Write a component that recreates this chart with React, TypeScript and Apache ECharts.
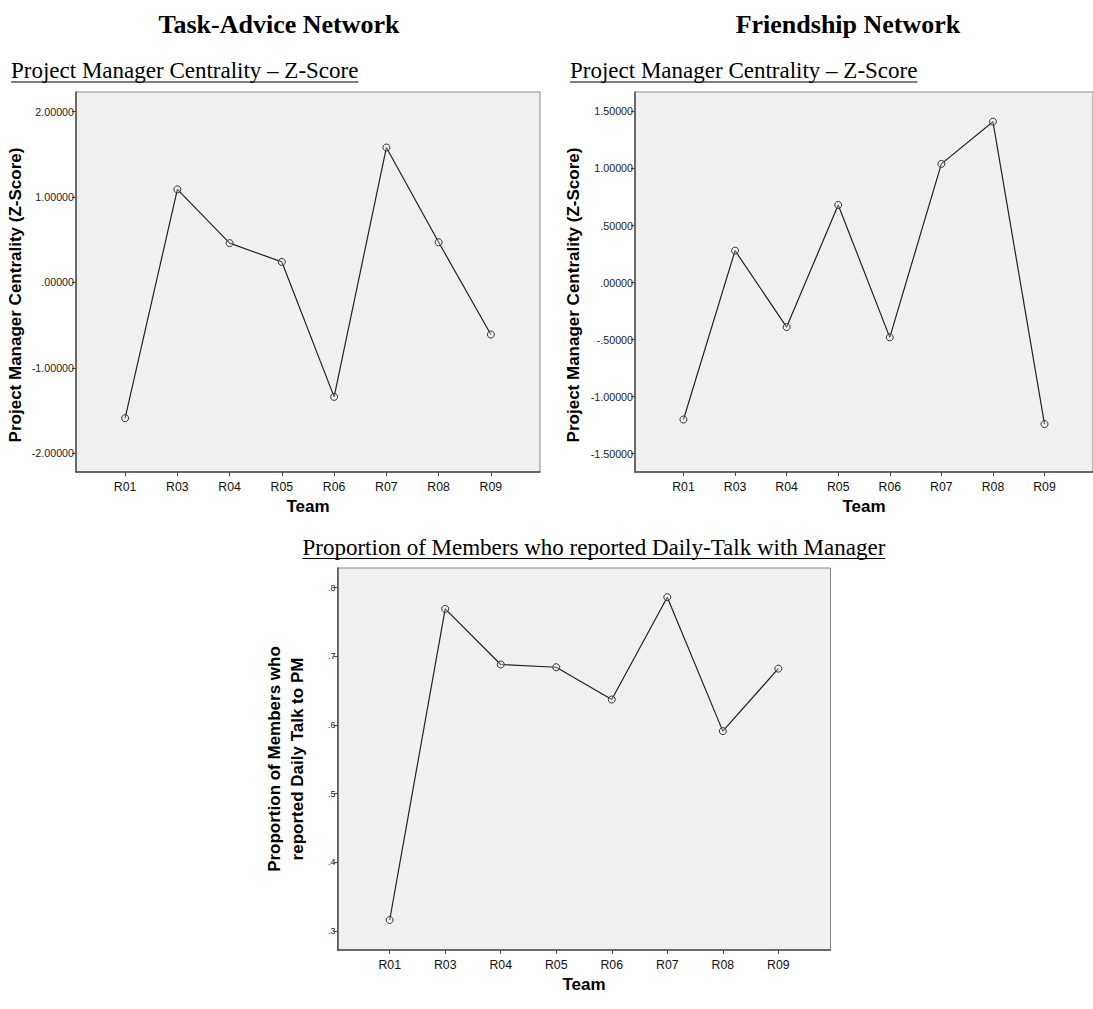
import React, { useEffect, useRef } from "react";
import * as echarts from "echarts";

// ---- data ----
const teams = ["R01", "R03", "R04", "R05", "R06", "R07", "R08", "R09"];
const taskAdvice = [-1.59, 1.09, 0.46, 0.24, -1.34, 1.58, 0.47, -0.61];
const friendship = [-1.2, 0.28, -0.39, 0.68, -0.48, 1.04, 1.41, -1.24];
const dailyTalk = [0.316, 0.769, 0.688, 0.684, 0.637, 0.786, 0.591, 0.682];

const taskTicks = [-2, -1, 0, 1, 2];
const friendTicks = [-1.5, -1, -0.5, 0, 0.5, 1, 1.5];
const talkTicks = [0.3, 0.4, 0.5, 0.6, 0.7, 0.8];
const teamTicks = teams.map((_, i) => i);

const headings = ["Task-Advice Network", "Friendship Network"];
const subtitles = [
  "Project Manager Centrality \u2013 Z-Score",
  "Project Manager Centrality \u2013 Z-Score",
  "Proportion of Members who reported Daily-Talk with Manager",
];
const yNames = [
  "Project Manager Centrality (Z-Score)",
  "Project Manager Centrality (Z-Score)",
  "Proportion of Members who\nreported Daily Talk to PM",
];

const SANS = '"Liberation Sans", Arial, sans-serif';
const SERIF = '"Liberation Serif", "Times New Roman", serif';

function spssFmt(v: number, d: number): string {
  const s = Math.abs(v).toFixed(d).replace(/^0\./, ".");
  return (v < 0 ? "-" : "") + s;
}

function measure(text: string, font: string): number {
  const c = document.createElement("canvas").getContext("2d");
  if (!c) return text.length * 10;
  c.font = font;
  return c.measureText(text).width;
}

export default function App() {
  const ref = useRef<HTMLDivElement>(null);

  useEffect(() => {
    if (!ref.current) return;
    const chart = echarts.init(ref.current, undefined, { renderer: "svg" });

    const grids = [
      { left: 76, top: 92, width: 464, height: 380 },
      { left: 635, top: 92, width: 463, height: 380 },
      { left: 337.5, top: 568, width: 493, height: 382 },
    ];
    const yDefs = [
      { min: -2.22, max: 2.23, ticks: taskTicks, dec: 5, gap: 49, size: 10.7, shift: 26 },
      { min: -1.66, max: 1.67, ticks: friendTicks, dec: 5, gap: 50, size: 10.7, shift: 26 },
      { min: 0.2723, max: 0.8285, ticks: talkTicks, dec: 1, gap: 29, size: 9, shift: 0 },
    ];
    const seriesData = [taskAdvice, friendship, dailyTalk];

    const subFont = `23px ${SERIF}`;
    const subPos = [
      { x: 11, y: 70 },
      { x: 570, y: 70 },
      { x: 302.5, y: 547 },
    ];
    const underlineY = [82, 82, 558.5];

    const graphic: any[] = [];
    const titleX = [279, 848];
    headings.forEach((h, i) => {
      graphic.push({
        type: "text",
        x: titleX[i],
        y: 24,
        style: {
          text: h,
          font: `bold 26px ${SERIF}`,
          fill: "#000",
          textAlign: "center",
          textVerticalAlign: "middle",
        },
      });
    });
    subtitles.forEach((s, i) => {
      const w = measure(s, subFont);
      graphic.push({
        type: "text",
        x: subPos[i].x,
        y: subPos[i].y,
        style: {
          text: s,
          font: subFont,
          fill: "#000",
          textAlign: "left",
          textVerticalAlign: "middle",
        },
      });
      graphic.push({
        type: "line",
        shape: { x1: subPos[i].x, y1: underlineY[i], x2: subPos[i].x + w, y2: underlineY[i] },
        style: { stroke: "#000", lineWidth: 1 },
      });
    });

    const axisColor = "#4d4d4d";

    const option: any = {
      animation: false,
      backgroundColor: "#fff",
      grid: grids.map((g) => ({
        ...g,
        show: true,
        backgroundColor: "#f0f0f0",
        borderColor: "#8a8a8a",
        borderWidth: 1,
      })),
      xAxis: grids.map((_, gi) => ({
        gridIndex: gi,
        type: "value",
        min: -0.94,
        max: 7.94,
        name: "Team",
        nameLocation: "middle",
        nameGap: 26,
        nameTextStyle: { fontFamily: SANS, fontWeight: "bold", fontSize: 17, color: "#000" },
        axisLine: { show: true, onZero: false, lineStyle: { color: axisColor, width: 1.5 } },
        axisTick: { show: true, customValues: teamTicks, length: 4, lineStyle: { color: axisColor, width: 1 } },
        axisLabel: {
          customValues: teamTicks,
          formatter: (v: number) => teams[Math.round(v)] ?? "",
          margin: 9,
          fontSize: 12.3,
          fontFamily: SANS,
          color: "#111",
        },
        splitLine: { show: false },
      })),
      yAxis: yDefs.map((d, gi) => ({
        gridIndex: gi,
        type: "value",
        min: d.min,
        max: d.max,
        name: yNames[gi],
        nameLocation: "middle",
        nameGap: d.gap,
        nameTextStyle: {
          fontFamily: SANS,
          fontWeight: "bold",
          fontSize: 17,
          color: "#000",
          lineHeight: 23,
          padding: [0, d.shift, 0, 0],
        },
        axisLine: { show: true, onZero: false, lineStyle: { color: axisColor, width: 1.5 } },
        axisTick: { show: true, customValues: d.ticks, length: 4, lineStyle: { color: axisColor, width: 1 } },
        axisLabel: {
          customValues: d.ticks,
          formatter: (v: number) => spssFmt(v, d.dec),
          margin: 2,
          fontSize: d.size,
          fontFamily: SANS,
          color: "#222",
        },
        splitLine: { show: false },
      })),
      series: seriesData.map((vals, gi) => ({
        type: "line",
        xAxisIndex: gi,
        yAxisIndex: gi,
        data: vals.map((v, i) => [i, v]),
        symbol: "circle",
        symbolSize: 7,
        lineStyle: { color: "#222", width: 1.2 },
        itemStyle: { color: "rgba(240,240,240,0.3)", borderColor: "#333", borderWidth: 1 },
        emphasis: { disabled: true },
      })),
      graphic,
    };

    chart.setOption(option);
    return () => chart.dispose();
  }, []);

  return (
    <div
      ref={ref}
      style={{ position: "absolute", left: 0, top: 0, width: 1093, height: 1009, background: "#fff" }}
    />
  );
}
